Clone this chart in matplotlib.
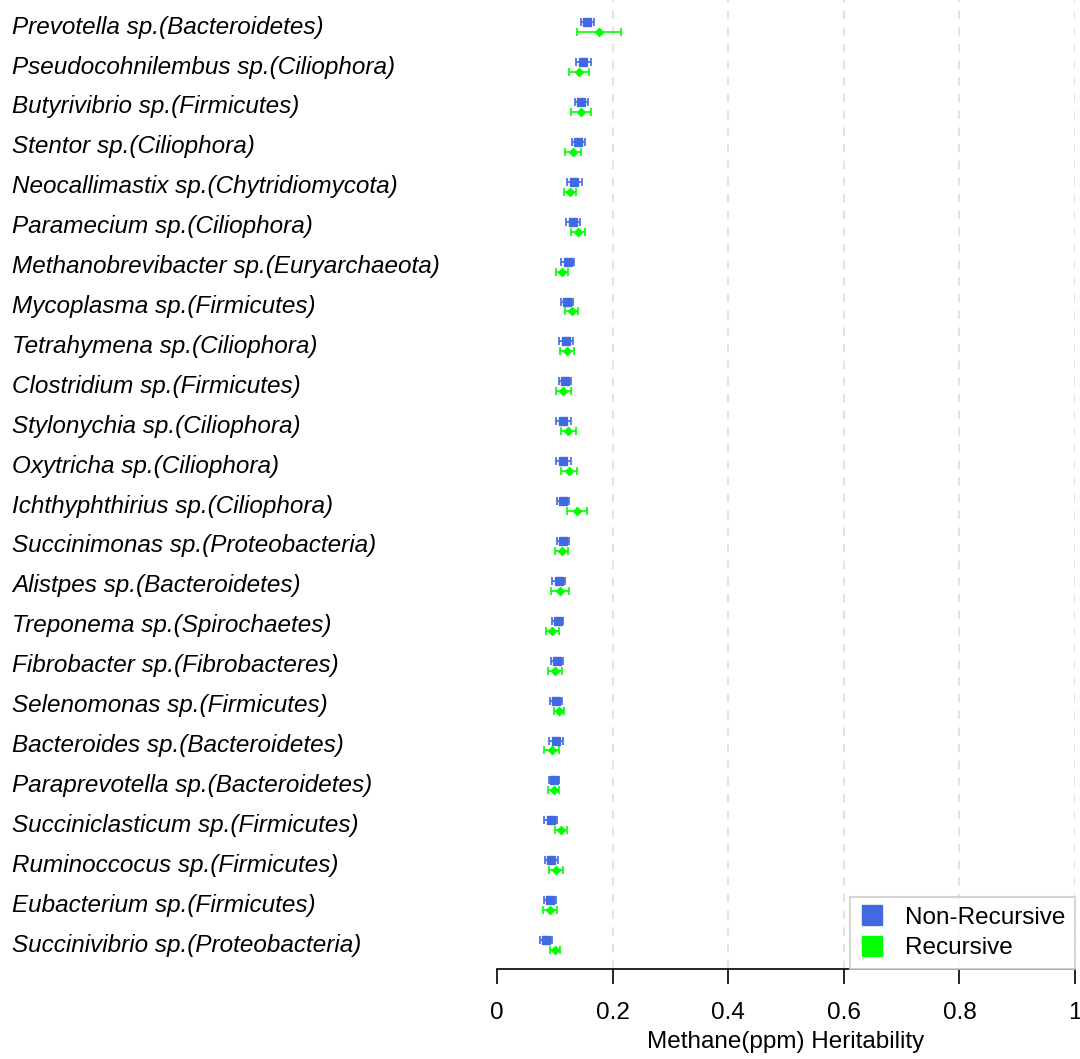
import numpy as np
import matplotlib
matplotlib.use("Agg")
import matplotlib.pyplot as plt
from matplotlib.lines import Line2D
import matplotlib.transforms as mtransforms

plt.rcParams['font.family'] = ['Liberation Sans', 'DejaVu Sans']

taxa = [
    "Prevotella sp.(Bacteroidetes)",
    "Pseudocohnilembus sp.(Ciliophora)",
    "Butyrivibrio sp.(Firmicutes)",
    "Stentor sp.(Ciliophora)",
    "Neocallimastix sp.(Chytridiomycota)",
    "Paramecium sp.(Ciliophora)",
    "Methanobrevibacter sp.(Euryarchaeota)",
    "Mycoplasma sp.(Firmicutes)",
    "Tetrahymena sp.(Ciliophora)",
    "Clostridium sp.(Firmicutes)",
    "Stylonychia sp.(Ciliophora)",
    "Oxytricha sp.(Ciliophora)",
    "Ichthyphthirius sp.(Ciliophora)",
    "Succinimonas sp.(Proteobacteria)",
    "Alistpes sp.(Bacteroidetes)",
    "Treponema sp.(Spirochaetes)",
    "Fibrobacter sp.(Fibrobacteres)",
    "Selenomonas sp.(Firmicutes)",
    "Bacteroides sp.(Bacteroidetes)",
    "Paraprevotella sp.(Bacteroidetes)",
    "Succiniclasticum sp.(Firmicutes)",
    "Ruminoccocus sp.(Firmicutes)",
    "Eubacterium sp.(Firmicutes)",
    "Succinivibrio sp.(Proteobacteria)",
]

nonrec = [0.156, 0.149, 0.146, 0.141, 0.134, 0.132, 0.122, 0.121, 0.120, 0.118, 0.115, 0.115,
          0.114, 0.114, 0.107, 0.105, 0.104, 0.102, 0.102, 0.099, 0.093, 0.094, 0.092, 0.085]
nonrec_err = [0.011, 0.013, 0.011, 0.012, 0.013, 0.012, 0.011, 0.010, 0.012, 0.010, 0.013, 0.013,
              0.011, 0.011, 0.011, 0.010, 0.010, 0.010, 0.012, 0.009, 0.011, 0.011, 0.010, 0.011]
rec = [0.177, 0.142, 0.145, 0.132, 0.126, 0.140, 0.112, 0.129, 0.121, 0.115, 0.123, 0.124,
       0.138, 0.112, 0.109, 0.096, 0.100, 0.107, 0.095, 0.098, 0.111, 0.102, 0.092, 0.100]
rec_err = [0.038, 0.017, 0.017, 0.014, 0.010, 0.012, 0.010, 0.012, 0.012, 0.013, 0.013, 0.014,
           0.017, 0.011, 0.015, 0.012, 0.012, 0.009, 0.013, 0.010, 0.010, 0.012, 0.012, 0.009]

blue = "#4169E1"
green = "#00FF00"

fig = plt.figure(figsize=(10.8, 10.59), dpi=100)
ax = fig.add_axes([497/1080, 1 - 969/1059, 578/1080, 969/1059])

n = len(taxa)
pos = np.arange(n, 0, -1)

ax.errorbar(nonrec, pos + 0.125, xerr=nonrec_err, fmt='s', color=blue, ms=6,
            capsize=3, elinewidth=1.2, capthick=1.2, zorder=3)
ax.errorbar(rec, pos - 0.125, xerr=rec_err, fmt='D', color=green, ms=4.5,
            capsize=3, elinewidth=1.2, capthick=1.2, zorder=3)

ax.set_xlim(0, 1)
ax.set_ylim(0.4, 24.68)

for x in [0.2, 0.4, 0.6, 0.8, 1.0]:
    ax.axvline(x, color='#dddddd', ls=(0, (5, 5)), lw=1.2, zorder=1)

for s in ['top', 'right', 'left']:
    ax.spines[s].set_visible(False)
ax.spines['bottom'].set_bounds(0, 1)
ax.spines['bottom'].set_linewidth(1.2)
ax.set_yticks([])
ax.set_xticks([0, 0.2, 0.4, 0.6, 0.8, 1.0])
ax.set_xticklabels(["0", "0.2", "0.4", "0.6", "0.8", "1"])
ax.tick_params(axis='x', length=11, width=1.2, direction='out', pad=13, labelsize=17.5)
ax.set_xlabel("Methane(ppm) Heritability", fontsize=17.5, labelpad=5)

trans = mtransforms.blended_transform_factory(fig.transFigure, ax.transData)
for p, t in zip(pos, taxa):
    ax.text(12/1080, p, t, transform=trans, ha='left', va='center',
            fontsize=17.5, style='italic', clip_on=False)

handles = [Line2D([], [], marker='s', ls='none', color=blue, ms=15),
           Line2D([], [], marker='s', ls='none', color=green, ms=15)]
leg = ax.legend(handles, ["Non-Recursive", "Recursive"], loc='lower right',
                bbox_to_anchor=(1, 0), borderaxespad=0, fontsize=17.5, frameon=True,
                fancybox=False, edgecolor='#cccccc', handlelength=1.0,
                handletextpad=0.85, labelspacing=0.35, borderpad=0.4)
leg.get_frame().set_linewidth(1.5)

fig.savefig("out.png", dpi=100)
